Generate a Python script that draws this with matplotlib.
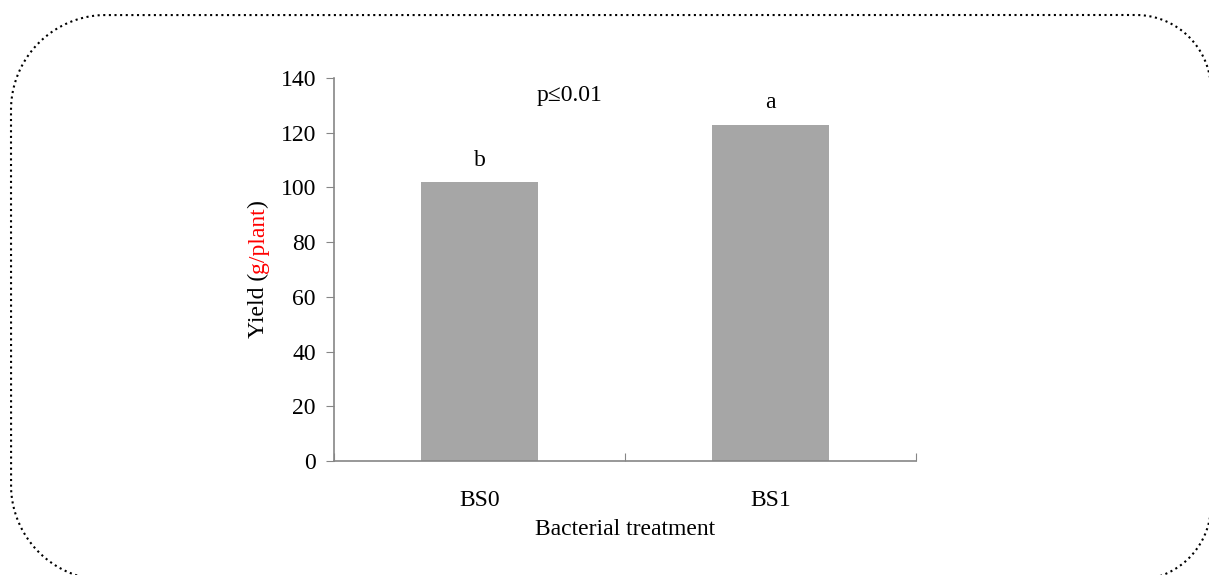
import numpy as np
import matplotlib.pyplot as plt
from matplotlib.patches import PathPatch
from matplotlib.path import Path
from matplotlib.transforms import IdentityTransform

treatments = ['BS0', 'BS1']
yield_g = [102, 123]
letters = ['b', 'a']
letter_y = [110, 131]

plt.rcParams['font.family'] = ['Liberation Serif', 'DejaVu Serif']
FS = 17

fig = plt.figure(figsize=(12.09, 5.75), dpi=100)
ax = fig.add_axes([0.2763, 0.1983, 0.4814, 0.666])

x = range(len(treatments))
ax.bar(x, yield_g, width=0.4, color='#A6A6A6', zorder=2)
for xi, lab, ly in zip(x, letters, letter_y):
    ax.text(xi, ly, lab, ha='center', va='center', fontsize=FS)
ax.text(0.31, 133.5, 'p\u22640.01', ha='center', va='center', fontsize=FS)

ax.set_xlim(-0.5, 1.5)
ax.set_ylim(0, 140)
ax.set_yticks(range(0, 141, 20))
ax.set_xticks([-0.5, 0.5, 1.5])
ax.set_xticklabels(['', '', ''])
ax.set_xticks(list(x), minor=True)
ax.set_xticklabels(treatments, minor=True)
ax.tick_params(axis='x', which='minor', length=0, pad=21, labelsize=FS)
ax.tick_params(axis='x', which='major', length=6, direction='in', color='#868686')
ax.tick_params(axis='y', length=6, direction='out', color='#868686', labelsize=FS, pad=7)
for side in ['top', 'right']:
    ax.spines[side].set_visible(False)
for side in ['left', 'bottom']:
    ax.spines[side].set_color('#868686')
    ax.spines[side].set_linewidth(1.2)

ax.set_xlabel('Bacterial treatment', fontsize=FS, labelpad=6)

# y label with red unit, built from three pieces
fig.canvas.draw()
renderer = fig.canvas.get_renderer()
pieces = [('Yield (', 'black'), ('g/plant', '#FF0000'), (')', 'black')]
widths = []
for s, c in pieces:
    t = fig.text(0, 0, s, fontsize=FS, rotation=90)
    widths.append(t.get_window_extent(renderer).height)
    t.remove()
total = sum(widths)
xc = 258
yc = 575 - 269 - total / 2
for (s, c), w in zip(pieces, widths):
    fig.text(xc, yc, s, fontsize=FS, color=c, rotation=90,
             rotation_mode='anchor', ha='left', va='center',
             transform=IdentityTransform())
    yc += w


# dotted rounded frame (pixel coordinates)
def rounded_frame(x0, y0, x1, y1, r_left, r_right):
    pts = []
    corners = [
        (x1 - r_right, y1 - r_right, r_right, 0, 90),
        (x0 + r_left, y1 - r_left, r_left, 90, 180),
        (x0 + r_left, y0 + r_left, r_left, 180, 270),
        (x1 - r_right, y0 + r_right, r_right, 270, 360),
    ]
    for cx, cy, r, a0, a1 in corners:
        a = np.radians(np.linspace(a0, a1, 40))
        pts.extend(zip(cx + r * np.cos(a), cy + r * np.sin(a)))
    pts.append(pts[0])
    return Path(pts)


frame = PathPatch(rounded_frame(11, -5, 1211, 560, 95, 75),
                  fill=False, edgecolor='black', linewidth=1.5,
                  linestyle=(0, (1, 1.7)), transform=IdentityTransform())
fig.patches.append(frame)

fig.savefig('out.png', dpi=100)
